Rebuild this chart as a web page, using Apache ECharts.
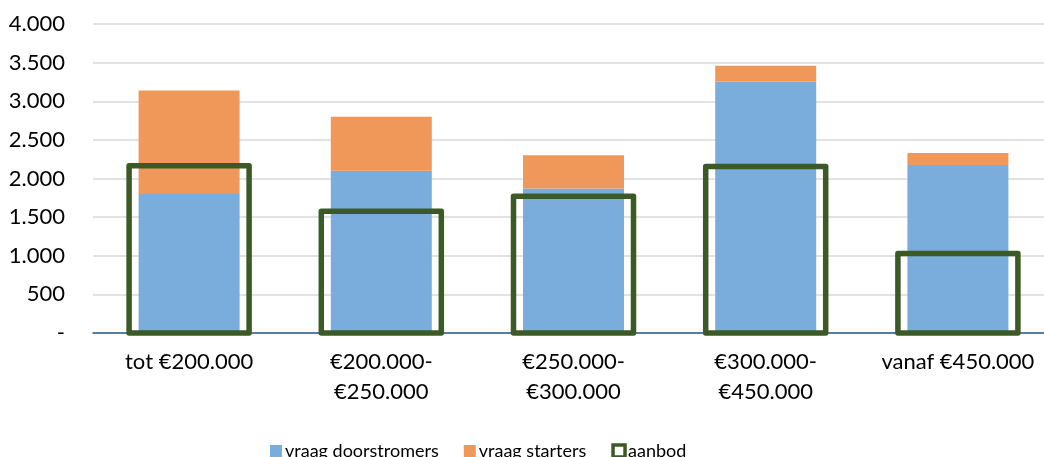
<!DOCTYPE html>
<html>
<head>
<meta charset="utf-8">
<script src="https://cdn.jsdelivr.net/npm/echarts@6/dist/echarts.min.js"></script>
<style>
  html, body { margin: 0; padding: 0; background: #fff; }
  #chart { width: 1044px; height: 457px; }
</style>
</head>
<body>
<div id="chart"></div>
<script>
// categorieën (prijsklassen)
var categories = ['tot €200.000', '€200.000-\n€250.000', '€250.000-\n€300.000', '€300.000-\n€450.000', 'vanaf €450.000']
// waarden per serie
var doorstromers = [1800, 2100, 1870, 3255, 2175]
var starters = [1340, 700, 430, 205, 155]
var aanbod = [2165, 1575, 1770, 2155, 1030]
// y-as
var yMin = 0
var yMax = 4000
var yStep = 500

var green = '#3b5a26'
var font = 'Lato, "Open Sans", sans-serif'

function fmt (v) {
  if (v === 0) return '-'
  return String(v).replace(/\B(?=(\d{3})+(?!\d))/g, '.')
}

// omlijnde staaf, lijn gecentreerd op de rand (zoals Excel)
function renderAanbod (params, api) {
  var top = api.coord([api.value(0), api.value(1)])
  var base = api.coord([api.value(0), 0])
  var w = 120
  return {
    type: 'rect',
    shape: { x: top[0] - w / 2, y: top[1], width: w, height: base[1] - top[1] },
    style: { fill: 'none', stroke: green, lineWidth: 5.5, lineJoin: 'round' }
  }
}

var chart = echarts.init(document.getElementById('chart'))
var option = {
  animation: false,
  textStyle: { fontFamily: font },
  grid: { left: 93, top: 24, width: 961, height: 309, containLabel: false, outerBoundsMode: 'none' },
  legend: {
    left: 265,
    top: 437,
    itemWidth: 12,
    itemHeight: 12,
    itemGap: 25,
    textStyle: { fontSize: 18, color: '#000', fontFamily: font, padding: [0, 0, 0, -2] },
    data: [
      { name: 'vraag doorstromers', icon: 'rect' },
      { name: 'vraag starters', icon: 'rect' },
      { name: 'aanbod', icon: 'rect', itemStyle: { color: '#fff', borderColor: green, borderWidth: 3.5 } }
    ]
  },
  xAxis: {
    type: 'category',
    data: categories,
    axisLine: { lineStyle: { color: '#2f5a8c', width: 1.5 } },
    axisTick: { show: false },
    axisLabel: { color: '#000', fontSize: 22, lineHeight: 30, margin: 14, interval: 0, fontFamily: font }
  },
  yAxis: {
    type: 'value',
    min: yMin,
    max: yMax,
    interval: yStep,
    axisLine: { show: false },
    axisTick: { show: false },
    splitLine: { lineStyle: { color: '#d9d9d9', width: 1.5 } },
    axisLabel: { color: '#000', fontSize: 22, margin: 28, formatter: fmt, fontFamily: font }
  },
  series: [{
    name: 'vraag doorstromers',
    type: 'bar',
    stack: 'vraag',
    barWidth: 101,
    itemStyle: { color: '#7aacdc' },
    data: doorstromers
  }, {
    name: 'vraag starters',
    type: 'bar',
    stack: 'vraag',
    barWidth: 101,
    itemStyle: { color: '#f0975a' },
    data: starters
  }, {
    name: 'aanbod',
    type: 'custom',
    renderItem: renderAanbod,
    encode: { x: 0, y: 1 },
    z: 5,
    itemStyle: { color: green },
    data: aanbod.map(function (v, i) { return [i, v] })
  }]
}
chart.setOption(option)
</script>
</body>
</html>
